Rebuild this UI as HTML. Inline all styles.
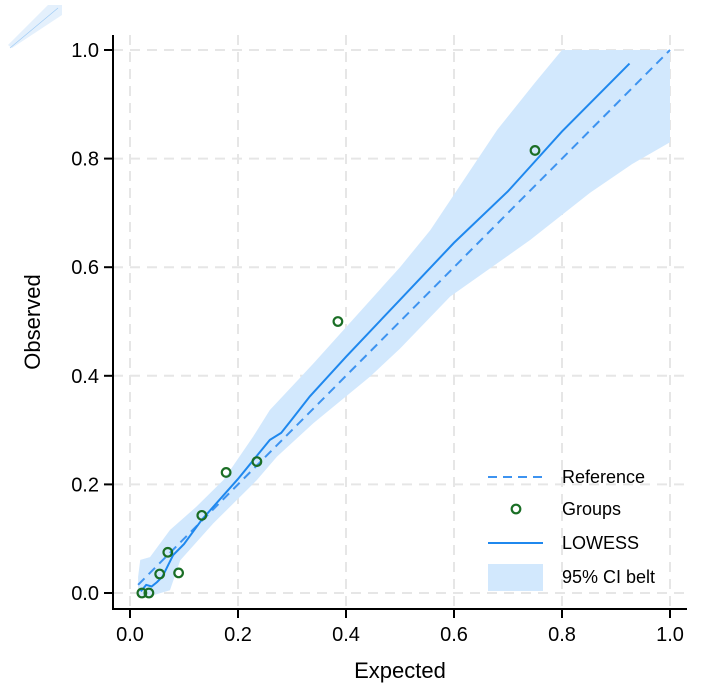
<!DOCTYPE html>
<html><head><meta charset="utf-8"><style>
body{margin:0;background:#fff;font-family:"Liberation Sans",Arial,sans-serif}
svg text{font-family:"Liberation Sans",Arial,sans-serif}
</style></head><body>
<svg id="chart" width="708" height="692" xmlns="http://www.w3.org/2000/svg">
<g>
<polygon points="8,45 48,5 62,5 62,15 12,48" fill="#e4f0fc"/>
<line x1="10" y1="48" x2="58" y2="8" stroke="#9ccaf5" stroke-width="0.6"/>
</g>
<g id="grid"></g>
<path id="belt" fill="#d2e8fd" stroke="none"/>
<path id="refline" fill="none" stroke="#3d93f0" stroke-width="2" stroke-dasharray="9,6"/>
<path id="lowess" fill="none" stroke="#1f88ee" stroke-width="2"/>
<g id="pts"></g>
<g id="axes"></g>
<text x="400" y="678" font-size="22" text-anchor="middle">Expected</text>
<text x="40" y="322" font-size="22" text-anchor="middle" transform="rotate(-90 40 322)">Observed</text>
<g font-size="18">
<g><line x1="488" y1="477" x2="543" y2="477" stroke="#3d93f0" stroke-width="2" stroke-dasharray="9,6"/><text x="562" y="483">Reference</text></g>
<g><circle cx="516" cy="509" r="4.3" fill="none" stroke="#1a6e25" stroke-width="2.2"/><text x="562" y="515">Groups</text></g>
<g><line x1="488" y1="543" x2="543" y2="543" stroke="#1f88ee" stroke-width="2"/><text x="562" y="549">LOWESS</text></g>
<g><rect x="488" y="564" width="55" height="27" fill="#d2e8fd"/><text x="562" y="583">95% CI belt</text></g>
</g>
</svg>
<script>
const ticks=[0,0.2,0.4,0.6,0.8,1.0];
const tickLabels=["0.0","0.2","0.4","0.6","0.8","1.0"];
const groupX=[0.022,0.035,0.055,0.07,0.09,0.133,0.178,0.235,0.385,0.75];
const groupY=[0,0,0.035,0.075,0.037,0.143,0.222,0.242,0.5,0.815];
const lowessX=[0.02,0.03,0.04,0.05,0.06,0.07,0.08,0.1,0.133,0.2,0.259,0.28,0.3,0.333,0.4,0.5,0.6,0.7,0.741,0.8,0.925];
const lowessY=[0.003,0.015,0.012,0.02,0.03,0.05,0.07,0.09,0.135,0.21,0.282,0.295,0.32,0.362,0.435,0.54,0.645,0.74,0.785,0.85,0.975];
const beltUpX=[0.015,0.019,0.037,0.074,0.123,0.173,0.228,0.259,0.34,0.395,0.5,0.556,0.68,0.75,0.8,1.0];
const beltUpY=[0.03,0.061,0.066,0.116,0.159,0.208,0.288,0.337,0.423,0.484,0.60,0.668,0.853,0.94,1.0,1.0];
const beltLoX=[1.0,0.93,0.852,0.741,0.593,0.5,0.444,0.34,0.272,0.235,0.154,0.093,0.074,0.04,0.015];
const beltLoY=[0.83,0.79,0.737,0.65,0.546,0.45,0.398,0.313,0.251,0.208,0.128,0.06,0.005,-0.005,-0.005];
const X=v=>130+v*540, Y=v=>593-v*543;
const NS="http://www.w3.org/2000/svg";
function mk(t,a,p){const e=document.createElementNS(NS,t);for(const k in a)e.setAttribute(k,a[k]);p.appendChild(e);return e;}
const grid=document.getElementById('grid'),axes=document.getElementById('axes');
ticks.forEach((t,i)=>{
 const g1=mk('line',{x1:X(t),x2:X(t),y1:35,y2:609,stroke:'#e6e6e6','stroke-width':2,'stroke-dasharray':'10,7'},grid);
 
 const g2=mk('line',{x1:113,x2:687,y1:Y(t),y2:Y(t),stroke:'#e6e6e6','stroke-width':2,'stroke-dasharray':'10,7'},grid);
 
 mk('line',{x1:X(t),x2:X(t),y1:609,y2:618,stroke:'#000','stroke-width':2},axes);
 mk('line',{x1:104,x2:113,y1:Y(t),y2:Y(t),stroke:'#000','stroke-width':2},axes);
 const tx=mk('text',{x:X(t),y:641,'font-size':20,'text-anchor':'middle'},axes);tx.textContent=tickLabels[i];
 
 const ty=mk('text',{x:99,y:Y(t)+7,'font-size':20,'text-anchor':'end'},axes);ty.textContent=tickLabels[i];
 
});
mk('line',{x1:113,x2:113,y1:35,y2:610,stroke:'#000','stroke-width':2},axes);
mk('line',{x1:112,x2:687,y1:609,y2:609,stroke:'#000','stroke-width':2},axes);
let d='';beltUpX.forEach((x,i)=>d+=(i?'L':'M')+X(x)+','+Y(beltUpY[i]));
beltLoX.forEach((x,i)=>d+='L'+X(x)+','+Y(beltLoY[i]));
document.getElementById('belt').setAttribute('d',d+'Z');
document.getElementById('refline').setAttribute('d','M'+X(0.015)+','+Y(0.015)+'L'+X(1)+','+Y(1));
let l='';lowessX.forEach((x,i)=>l+=(i?'L':'M')+X(x)+','+Y(lowessY[i]));
document.getElementById('lowess').setAttribute('d',l);
const pts=document.getElementById('pts');
groupX.forEach((x,i)=>{const c=mk('circle',{cx:X(x),cy:Y(groupY[i]),r:4.3,fill:'none',stroke:'#1a6e25','stroke-width':2.2},pts);
 });
</script>
</body></html>
